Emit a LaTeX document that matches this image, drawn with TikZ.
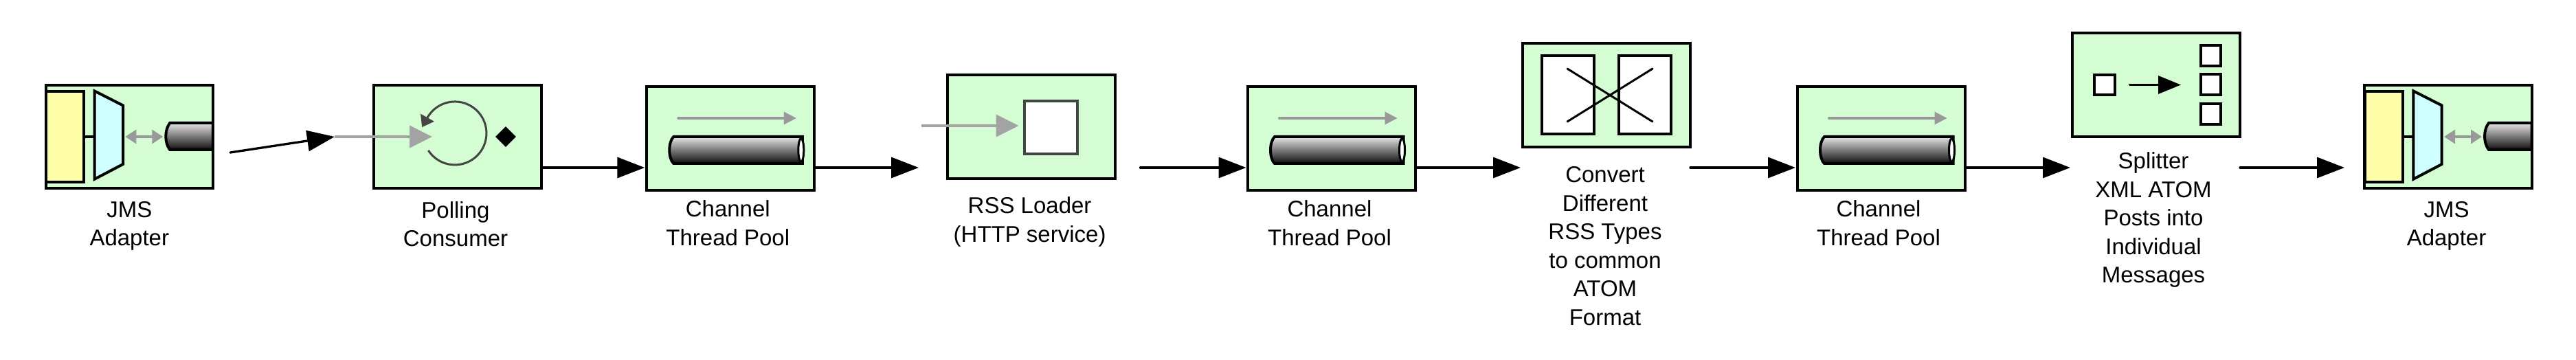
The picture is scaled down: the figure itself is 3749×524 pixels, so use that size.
\documentclass[tikz,border=0pt]{standalone}
\usepackage{fontspec}
\setmainfont{Liberation Sans}
\usetikzlibrary{positioning, shapes.geometric, arrows.meta}
\definecolor{boxgreen}{HTML}{D4FDD4}
\definecolor{jmsyellow}{HTML}{FFFFAA}
\definecolor{jmscyan}{HTML}{D0FFFF}
\definecolor{icongray}{HTML}{999999}
\definecolor{icondark}{HTML}{444444}

\begin{document}
\begin{tikzpicture}[
        x=1pt, y=1pt,
        compbox/.style={rectangle, draw=black, fill=boxgreen, line width=4pt, outer sep=0pt, minimum width=244pt, minimum height=150.5pt},
        docbox/.style={rectangle, draw=black, fill=white, line width=4pt, outer sep=0pt, inner sep=0pt},
        caption/.style={align=center, inner sep=0pt, outer sep=0pt, font=\fontsize{33pt}{41.5pt}\selectfont},
        flow/.style={-{Triangle[length=40pt, width=30pt]}, line width=3.3pt, line cap=round},
        grayflow/.style={-{Triangle[length=33pt, width=32pt]}, draw=icongray!90, line width=4pt},
        pipebody/.style={draw=black, line width=4pt, top color=black!10, middle color=black!45, bottom color=black!95},
        adapter icon/.pic={
            \draw[fill=jmsyellow, line width=4pt] (-121.3,66.3) rectangle (-65.9,-66);
            \draw[line width=3.3pt] (-65.9,0) -- (-50.6,0);
            \draw[fill=jmscyan, line width=4pt] (-50.6,66.5) -- (-9.3,45.5) -- (-9.3,-40) -- (-50.6,-61.7) -- cycle;
            \draw[{Triangle[length=16pt, width=20pt]}-{Triangle[length=16pt, width=20pt]}, draw=icongray, line width=3.5pt] (-6,0) -- (49,0);
            \draw[pipebody] (121.5,20) -- (59,20) .. controls (51,10) and (51,-9) .. (59,-19) -- (121.5,-19) -- cycle;
        },
        channel icon/.pic={
            \draw[-{Triangle[length=18pt, width=18pt]}, draw=icongray, line width=3.2pt, line cap=round] (-76.4,29.5) -- (95.6,29.5);
            \draw[pipebody] (104.5,2.5) -- (-83,2.5) .. controls (-91,-5) and (-91,-29) .. (-83,-36.5) -- (104.5,-36.5) -- cycle;
            \draw[fill=white, line width=3pt] (102.5,-17) ellipse [x radius=4pt, y radius=17pt];
        }
        ]
        \useasboundingbox (0,0) rectangle (3749,524);
        \coordinate (rail) at (0,280);

        \node[compbox, minimum width=242.6pt] (adapterA) at (188.3,325) {};
        \node[compbox, right=234.4pt of adapterA] (polling) {};
        \node[compbox, right=153.3pt of polling, yshift=-2.5pt] (channelA) {};
        \node[compbox, right=193.3pt of channelA, yshift=16.8pt] (rss) {};
        \node[compbox, right=193.4pt of rss, yshift=-16.8pt] (channelB) {};
        \node[compbox, right=156pt of channelB, yshift=63pt] (transform) {};
        \node[compbox, right=156pt of transform, yshift=-63pt] (channelC) {};
        \node[compbox, right=156pt of channelC, yshift=78pt] (splitter) {};
        \node[compbox, right=181pt of splitter, yshift=-75.5pt] (adapterB) {};

        \pic at (adapterA.center) {adapter icon};
        \pic at (adapterB.center) {adapter icon};
        \pic at (channelA.center) {channel icon};
        \pic at (channelB.center) {channel icon};
        \pic at (channelC.center) {channel icon};

        % polling loop
        \begin{scope}[shift={(polling.center)}]
            \draw[-{Triangle[length=16pt, width=22pt]}, draw=icondark, line width=3pt] (-42.6,-20) arc[start angle=213, end angle=510, radius=46pt] -- ++(-8,-14.2);
            \node[diamond, fill=black, inner sep=0pt, minimum width=30pt, minimum height=30pt] (pollmark) at (70,0) {};
            \coordinate (pollin) at (-179,0);
            \coordinate (polltip) at (-37,0);
        \end{scope}

        \node[docbox, draw=icondark, minimum width=77pt, minimum height=77pt, right=-0pt of rss.center, xshift=-10pt, yshift=-0.8pt] (rssdoc) {};
        \coordinate (rssfeed) at ([xshift=-160pt, yshift=1.7pt]rss.center);

        % translator boxes
        \node[docbox, minimum width=76pt, minimum height=114pt] (docleft) at ([xshift=-56pt]transform.center) {};
        \node[docbox, minimum width=76pt, minimum height=114pt] (docright) at ([xshift=56pt]transform.center) {};
        \begin{scope}[shift={(transform.center)}]
            \draw[line width=3pt, line cap=round] (-57,38.5) -- (67,-38.5);
            \draw[line width=3pt, line cap=round] (67,38.5) -- (-57,-38.5);
        \end{scope}

        % splitter boxes
        \node[docbox, minimum width=30pt, minimum height=29pt] (msgin) at ([xshift=-74.7pt]splitter.center) {};
        \node[docbox, minimum width=29pt, minimum height=30pt] (msgb) at ([xshift=79.5pt]splitter.center) {};
        \node[docbox, minimum width=29pt, minimum height=30pt, above=12.5pt of msgb] (msga) {};
        \node[docbox, minimum width=29pt, minimum height=30pt, below=12.5pt of msgb] (msgc) {};
        \draw[-{Triangle[length=33pt, width=26pt]}, line width=3.3pt, line cap=round] ([xshift=21pt]msgin.east) -- ([xshift=-29pt]msgb.west);

        \coordinate (jmsout) at (335,302);
        \draw[flow] (jmsout) -- (pollin);
        \draw[grayflow] (pollin) -- (polltip);
        \draw[grayflow] (rssfeed) -- ([xshift=-8pt]rssfeed -| rssdoc.west);

        \draw[flow, shorten >=3pt] (polling.east |- rail) -- (channelA.west |- rail);
        \draw[flow, shorten >=41.6pt] (channelA.east |- rail) -- (rss.west |- rail);
        \draw[flow, shorten <=37pt, shorten >=2.5pt] (rss.east |- rail) -- (channelB.west |- rail);
        \draw[flow, shorten >=3pt] (channelB.east |- rail) -- (transform.west |- rail);
        \draw[flow, shorten >=3pt] (transform.east |- rail) -- (channelC.west |- rail);
        \draw[flow, shorten >=3pt] (channelC.east |- rail) -- (splitter.west |- rail);
        \draw[flow, shorten >=29pt] (splitter.east |- rail) -- (adapterB.west |- rail);

        \node[caption, below=19pt of adapterA] (labela) {JMS\\Adapter};
        \node[caption, below=19pt of polling, xshift=-3pt] (labelb) {Polling\\Consumer};
        \node[caption, below=15pt of channelA, xshift=-4pt] (labelc) {Channel\\Thread Pool};
        \node[caption, below=27pt of rss, xshift=-2pt] (labeld) {RSS Loader\\(HTTP service)};
        \node[caption, below=15pt of channelB, xshift=-3pt] (labele) {Channel\\Thread Pool};
        \node[caption, below=29pt of transform, xshift=-2pt] (labelf) {Convert\\Different\\RSS Types\\to common\\ATOM\\Format};
        \node[caption, below=15pt of channelC, xshift=-4pt] (labelg) {Channel\\Thread Pool};
        \node[caption, below=23pt of splitter, xshift=-4pt] (labelh) {Splitter\\XML ATOM\\Posts into\\Individual\\Messages};
        \node[caption, below=19pt of adapterB, xshift=-2.5pt] (labeli) {JMS\\Adapter};
    \end{tikzpicture}
\end{document}
